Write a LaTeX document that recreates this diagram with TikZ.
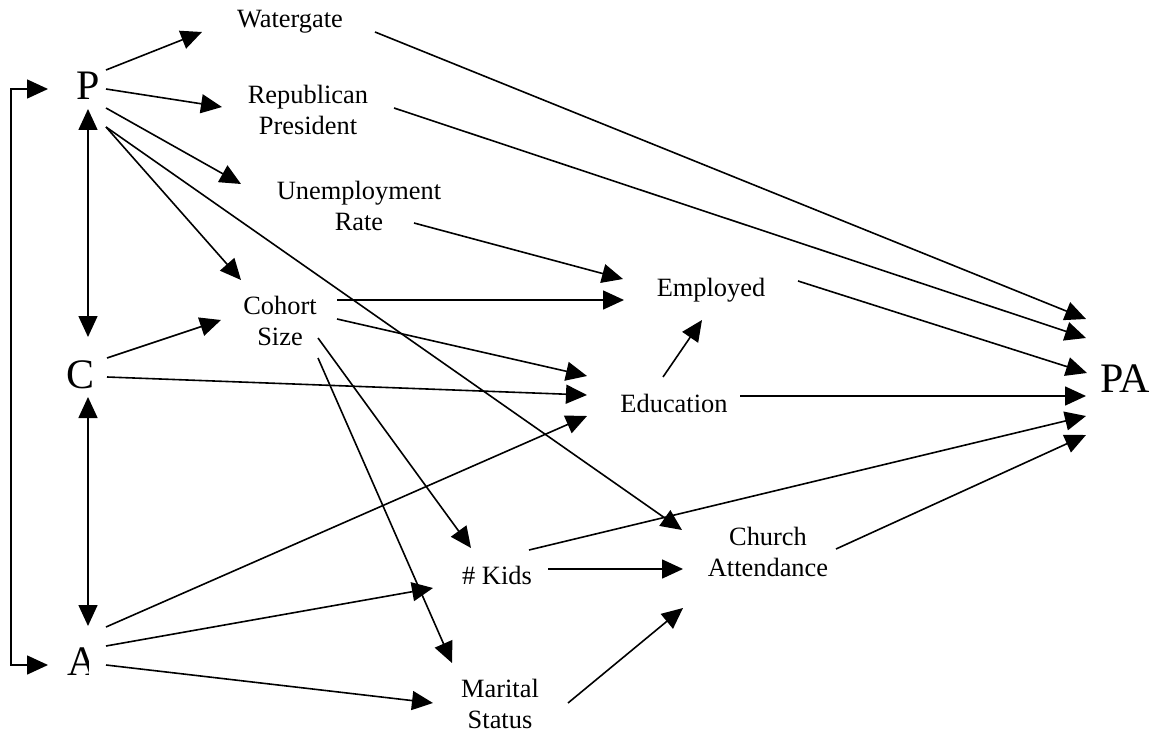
\documentclass[tikz,border=0pt]{standalone}
\usepackage{fontspec}
\setmainfont{Liberation Serif}
\usetikzlibrary{arrows.meta}
\tikzset{
  lbl/.style={inner sep=0pt, outer sep=0pt, align=center, font=\fontsize{26.4}{31}\selectfont},
  big/.style={inner sep=0pt, outer sep=0pt, font=\fontsize{42}{48}\selectfont},
  arr/.style={line width=1.6pt, -{Triangle[length=21pt,width=19pt]}},
  dbl/.style={line width=1.6pt, {Triangle[length=21pt,width=19pt]}-{Triangle[length=21pt,width=19pt]}},
}
\begin{document}
\begin{tikzpicture}[x=1pt,y=-1pt]
\useasboundingbox (0,0) rectangle (1159,738);
% variables
\node[big, anchor=base] (P) at (88,100) {P};
\node[big, anchor=base] (C) at (81,388) {C};
\begin{scope}
\clip (55,640) rectangle (88,676);
\node[big, anchor=base] (A) at (83,675) {A};
\end{scope}
\node[big, anchor=base] (PA) at (1125,392) {PA};
\node[lbl, anchor=base] (W) at (290,28) {Watergate};
\node[lbl] (R) at (308,110) {Republican\\President};
\node[lbl] (U) at (359,206) {Unemployment\\Rate};
\node[lbl] (CS) at (280,321) {Cohort\\Size};
\node[lbl, anchor=base] (E) at (711,296) {Employed};
\node[lbl, anchor=base] (Ed) at (674,412) {Education};
\node[lbl, anchor=base] (K) at (497,584) {\# Kids};
\node[lbl] (CA) at (768,552) {Church\\Attendance};
\node[lbl] (M) at (500,704) {Marital\\Status};
% bracket P <-> A
\draw[dbl] ([shift={(-40,-11)}]P.base) -- ++(-37,0) |- ([shift={(-35,-10)}]A.base);
% vertical double arrows
\draw[dbl] ([shift={(0,9)}]P.base) -- ([shift={(7,-51)}]C.base);
\draw[dbl] ([shift={(7,9)}]C.base) -- ([shift={(5,-49)}]A.base);
% from P
\draw[arr] ([shift={(18,-30)}]P.base) -- ([shift={(-88,4)}]W.base);
\draw[arr] ([shift={(18,-11)}]P.base) -- ([shift={(-86,-3)}]R.center);
\draw[arr] ([shift={(18,8)}]P.base) -- ([shift={(-118,-22)}]U.center);
\draw[arr] ([shift={(18,27)}]P.base) -- ([shift={(-39,-41)}]CS.center);
\draw[arr] ([shift={(18,27)}]P.base) -- ([shift={(-86,-22)}]CA.center);
% from C
\draw[arr] ([shift={(26,-30)}]C.base) -- ([shift={(-59,-1)}]CS.center);
\draw[arr] ([shift={(26,-11)}]C.base) -- ([shift={(-87,-17)}]Ed.base);
% from Cohort Size
\draw[arr] ([shift={(57,-21)}]CS.center) -- ([shift={(-87,4)}]E.base);
\draw[arr] ([shift={(57,-2)}]CS.center) -- ([shift={(-87,-36)}]Ed.base);
\draw[arr] ([shift={(38,17)}]CS.center) -- ([shift={(-26,-36)}]K.base);
\draw[arr] ([shift={(38,37)}]CS.center) -- ([shift={(-48,-41)}]M.center);
% from Unemployment Rate
\draw[arr] ([shift={(55,17)}]U.center) -- ([shift={(-88,-17)}]E.base);
% from A
\draw[arr] ([shift={(23,-48)}]A.base) -- ([shift={(-87,4)}]Ed.base);
\draw[arr] ([shift={(23,-29)}]A.base) -- ([shift={(-64,4)}]K.base);
\draw[arr] ([shift={(23,-10)}]A.base) -- ([shift={(-67,-1)}]M.center);
% from # Kids and Marital Status
\draw[arr] ([shift={(51,-15)}]K.base) -- ([shift={(-85,17)}]CA.center);
\draw[arr] ([shift={(32,-34)}]K.base) -- ([shift={(-39,24)}]PA.base);
\draw[arr] ([shift={(68,-1)}]M.center) -- ([shift={(-85,56)}]CA.center);
% to PA
\draw[arr] ([shift={(68,-3)}]CA.center) -- ([shift={(-39,43)}]PA.base);
\draw[arr] ([shift={(66,-16)}]Ed.base) -- ([shift={(-39,4)}]PA.base);
\draw[arr] ([shift={(-11,-35)}]Ed.base) -- ([shift={(-9,24)}]E.base);
\draw[arr] ([shift={(87,-15)}]E.base) -- ([shift={(-38,-19)}]PA.base);
\draw[arr] ([shift={(85,4)}]W.base) -- ([shift={(-39,-73)}]PA.base);
\draw[arr] ([shift={(86,-2)}]R.center) -- ([shift={(-39,-54)}]PA.base);
\end{tikzpicture}
\end{document}
